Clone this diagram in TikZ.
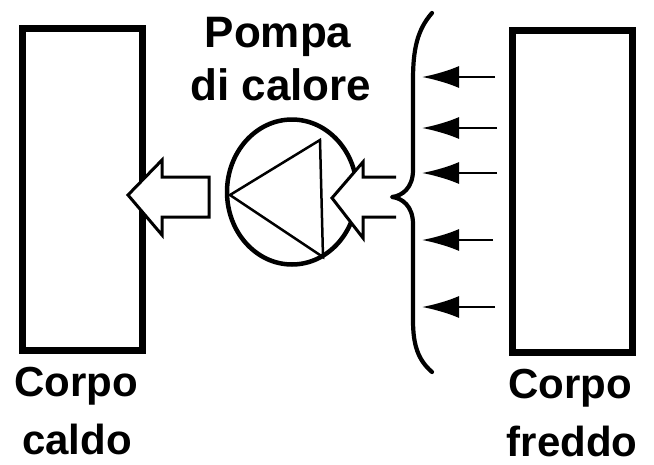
\documentclass[tikz,border=0pt]{standalone}
\usepackage{fontspec}
\setmainfont{Liberation Sans}
\usetikzlibrary{shapes.geometric,arrows.meta}
\begin{document}
\begin{tikzpicture}[x=1pt,y=-1pt,
  body/.style={draw,line width=7pt,minimum width=120pt,minimum height=322pt,inner sep=0pt},
  lbl/.style={anchor=base,font=\bfseries\fontsize{42}{50}\selectfont,inner sep=0pt},
  plbl/.style={anchor=base,font=\bfseries\fontsize{44}{52}\selectfont,inner sep=0pt},
  hollow/.style={line width=3pt,line join=miter,fill=white},
  heat/.style={line width=2.6pt,-{Latex[length=37pt,width=22pt]}}]
\useasboundingbox (0,0) rectangle (654,464);
% bodies
\node[body] (hot) at (82,189) {};
\node[body] (cold) at (572.5,191) {};
% labels
\node[lbl] (hot1) at (76,396) {Corpo};
\node[lbl] (hot2) at (77,454) {caldo};
\node[lbl] (cold1) at (570,398) {Corpo};
\node[lbl] (cold2) at (572,456) {freddo};
\node[plbl] (p1) at (278,47) {Pompa};
\node[plbl] (p2) at (281,100) {di calore};
% pump
\node[draw,ellipse,line width=4.5pt,minimum width=130pt,minimum height=145pt,inner sep=0pt] (pump) at (292,192) {};
\coordinate (tl) at (230,195);
\coordinate (tt) at (320,140);
\coordinate (tb) at (323,257);
\draw[line width=2.5pt,line join=miter] (tl) -- (tt) -- (tb) -- cycle;
% hollow arrow into hot body
\draw[hollow] (128,195) -- (162,160) -- (162,177) -- (209,177) -- (209,217) -- (162,217) -- (162,235) -- cycle;
% hollow arrow into pump
\fill[white] (396,177) -- (363,177) -- (363,162) -- (332,198) -- (363,238) -- (363,217) -- (396,217) -- cycle;
\draw[hollow,fill=none] (396,177) -- (363,177) -- (363,162) -- (332,198) -- (363,238) -- (363,217) -- (396,217);
% brace
\draw[line width=4.2pt,line cap=round,line join=round]
  (432,13) .. controls (417,30) and (413,50) .. (413,80) -- (413,170)
  .. controls (413,188) and (402,196) .. (392,197)
  .. controls (402,198) and (413,206) .. (413,224) -- (413,320)
  .. controls (413,345) and (418,360) .. (432,372);
% heat arrows
\foreach \i/\y/\t in {1/77/495,2/128/497,3/173/497,4/240/493,5/307/495}{
  \coordinate (s\i) at (\t,\y);
  \coordinate (e\i) at (422,\y);
  \draw[heat] (s\i) -- (e\i);
}
\end{tikzpicture}
\end{document}
